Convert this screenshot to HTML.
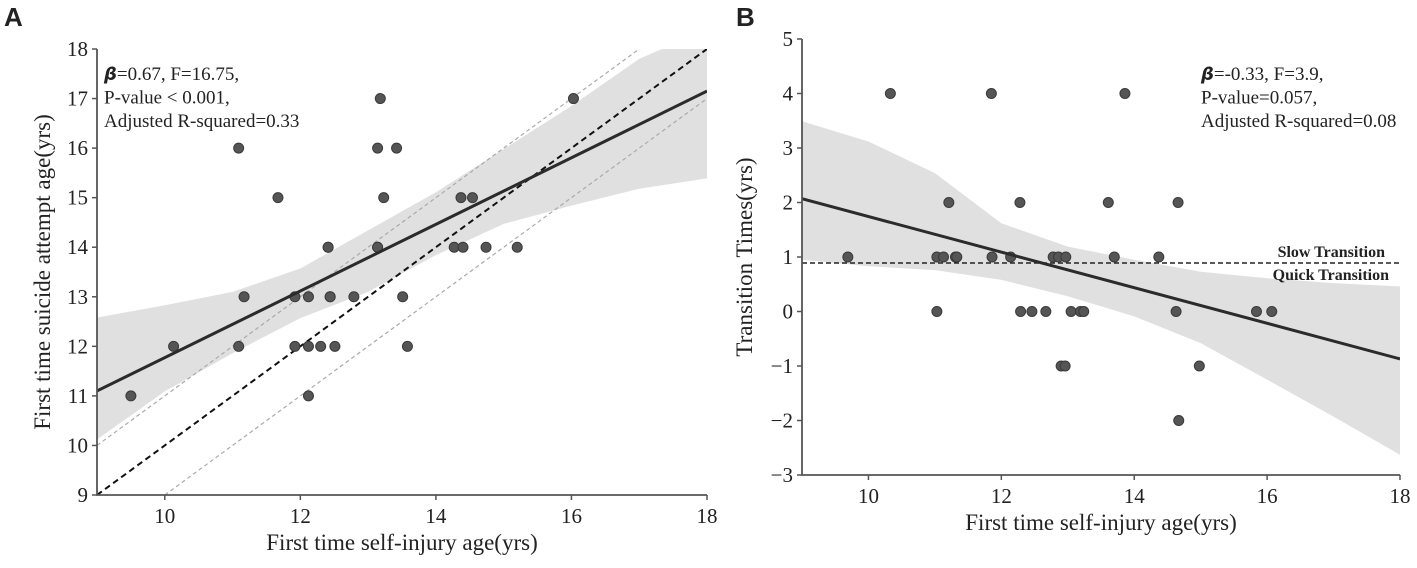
<!DOCTYPE html>
<html><head><meta charset="utf-8"><style>
body{margin:0;background:#fff}
svg text{font-family:"Liberation Serif",serif;fill:#222}
</style></head><body>
<svg id="c" width="1417" height="563" xmlns="http://www.w3.org/2000/svg">
<text x="4" y="26" style="font-family:'Liberation Sans',sans-serif;font-weight:bold;font-size:26px">A</text>
<text x="736" y="26" style="font-family:'Liberation Sans',sans-serif;font-weight:bold;font-size:26px">B</text>
<g id="pa"></g>
<g id="pb"></g>
</svg>
<script>
// Panel A data
const aX=[9.50,10.13,11.09,11.09,11.17,11.67,11.92,11.92,12.12,12.12,12.12,12.30,12.41,12.41,12.44,12.44,12.51,12.79,13.14,13.14,13.14,13.18,13.23,13.42,13.51,13.58,14.27,14.37,14.40,14.54,14.74,15.20,16.03];
const aY=[11,12,16,12,13,15,13,12,13,12,11,12,14,14,13,13,12,13,16,14,14,17,15,16,13,12,14,15,14,15,14,14,17];
const aFit=[11.1,17.15];
const aBandX=[9,10,11,12,13,14,15,16,17,18];
const aUpper=[12.58,12.83,13.1,13.57,14.34,15.11,15.98,16.85,17.8,18.4];
const aLower=[10.12,11.09,11.86,12.57,13.1,13.84,14.47,14.84,15.18,15.39];
const aXTicks=[10,12,14,16,18];
const aYTicks=[9,10,11,12,13,14,15,16,17,18];
// Panel B data
const bX=[10.33,11.85,13.86,11.21,12.28,13.61,14.66,9.69,11.03,11.13,11.31,11.33,11.86,12.14,12.78,12.86,12.97,13.70,14.37,11.03,12.29,12.46,12.67,13.05,13.19,13.24,14.63,15.84,16.07,12.90,12.96,14.98,14.67];
const bY=[4,4,4,2,2,2,2,1,1,1,1,1,1,1,1,1,1,1,1,0,0,0,0,0,0,0,0,0,0,-1,-1,-1,-2];
const bFit=[2.07,-0.87];
const bBandX=[9,10,11,12,13,14,15,16,17,18];
const bUpper=[3.49,3.12,2.54,1.62,1.19,0.95,0.73,0.61,0.52,0.46];
const bLower=[0.95,0.83,0.76,0.58,0.28,-0.09,-0.58,-1.25,-1.93,-2.63];
const bThreshold=0.89;
const bXTicks=[10,12,14,16,18];
const bYTicks=[-3,-2,-1,0,1,2,3,4,5];

const NS="http://www.w3.org/2000/svg";
function mk(p,tag,at,txt){const e=document.createElementNS(NS,tag);for(const k in at)e.setAttribute(k,at[k]);if(txt!==undefined)e.textContent=txt;p.appendChild(e);return e;}

function panel(g,o){
  const sx=v=>o.x0+(v-o.xmin)/(o.xmax-o.xmin)*(o.x1-o.x0);
  const sy=v=>o.y0-(v-o.ymin)/(o.ymax-o.ymin)*(o.y0-o.y1);
  const cid='clip'+o.id;
  const cp=mk(mk(g,'defs',{}),'clipPath',{id:cid});
  mk(cp,'rect',{x:o.x0,y:o.y1,width:o.x1-o.x0,height:o.y0-o.y1});
  const pl=mk(g,'g',{'clip-path':'url(#'+cid+')'});
  let d='';
  o.bx.forEach((x,i)=>{d+=(i?'L':'M')+sx(x)+','+sy(o.up[i]);});
  for(let i=o.bx.length-1;i>=0;i--)d+='L'+sx(o.bx[i])+','+sy(o.lo[i]);
  const band=mk(pl,'path',{d:d+'Z',fill:'#e0e0e0'});
  
  
  if(o.refs)o.refs.forEach(r=>{
    const l=mk(pl,'line',{x1:sx(o.xmin),y1:sy(o.xmin+r.off),x2:sx(o.xmax),y2:sy(o.xmax+r.off),stroke:r.c,'stroke-width':r.w,'stroke-dasharray':r.da});
    
    
  });
  if(o.thr!==undefined){
    const l=mk(pl,'line',{x1:o.x0,y1:sy(o.thr),x2:o.x1,y2:sy(o.thr),stroke:'#222','stroke-width':1.5,'stroke-dasharray':'5,3'});
    
    
  }
  o.px.forEach((x,i)=>{
    const c=mk(pl,'circle',{cx:sx(x),cy:sy(o.py[i]),r:5,fill:'#555',stroke:'#3a3a3a','stroke-width':1});
    
    
  });
  const fl=mk(pl,'line',{x1:sx(o.xmin),y1:sy(o.fit[0]),x2:sx(o.xmax),y2:sy(o.fit[1]),stroke:'#2b2b2b','stroke-width':3});
  
  
  const ax=mk(g,'path',{d:`M${o.x0},${o.y1}V${o.y0}H${o.x1}`,stroke:'#555','stroke-width':1.8,fill:'none'});
  
  
  o.xt.forEach(t=>{
    mk(g,'line',{x1:sx(t),y1:o.y0,x2:sx(t),y2:o.y0+5,stroke:'#555','stroke-width':1.5});
    const tx=mk(g,'text',{x:sx(t),y:o.y0+28,'text-anchor':'middle','font-size':21},t);
    
    
  });
  o.yt.forEach(t=>{
    mk(g,'line',{x1:o.x0,y1:sy(t),x2:o.x0-5,y2:sy(t),stroke:'#555','stroke-width':1.5});
    const tx=mk(g,'text',{x:o.x0-9,y:sy(t)+7,'text-anchor':'end','font-size':21},t<0?'\u2212'+(-t):t);
    
    
  });
  const xtl=mk(g,'text',{x:(o.x0+o.x1)/2,y:o.y0+55,'text-anchor':'middle','font-size':23},o.xlabel);
  
  
  const yc=(o.y0+o.y1)/2;
  const ytl=mk(g,'text',{x:o.ytx,y:yc,'text-anchor':'middle','font-size':23,transform:`rotate(-90 ${o.ytx} ${yc})`},o.ylabel);
  
  
  const an=mk(g,'text',{'font-size':19});
  
  
  o.ann.forEach((s,i)=>{
    const ts=mk(an,'tspan',{x:o.annx,y:o.anny+i*23.5});
    if(i===0){mk(ts,'tspan',{'font-style':'italic','font-weight':'bold','font-family':'DejaVu Sans, sans-serif','font-size':18},'β');mk(ts,'tspan',{},s);}
    else ts.textContent=s;
  });
  return {sx,sy};
}

panel(document.getElementById('pa'),{id:'a',x0:97,x1:707,y0:495,y1:49,xmin:9,xmax:18,ymin:9,ymax:18,
  px:aX,py:aY,fit:aFit,bx:aBandX,up:aUpper,lo:aLower,xt:aXTicks,yt:aYTicks,
  refs:[{off:1,c:'#aaa',w:1.2,da:'4,3',name:'upper-reference-line'},{off:-1,c:'#aaa',w:1.2,da:'4,3',name:'lower-reference-line'},{off:0,c:'#111',w:2,da:'6,4',name:'identity-line'}],
  xlabel:'First time self-injury age(yrs)',ylabel:'First time suicide attempt age(yrs)',ytx:50,
  ann:['=0.67, F=16.75,','P-value < 0.001,','Adjusted R-squared=0.33'],annx:104,anny:80});
const b=panel(document.getElementById('pb'),{id:'b',x0:802,x1:1400,y0:475,y1:39,xmin:9,xmax:18,ymin:-3,ymax:5,
  px:bX,py:bY,fit:bFit,bx:bBandX,up:bUpper,lo:bLower,xt:bXTicks,yt:bYTicks,thr:bThreshold,
  xlabel:'First time self-injury age(yrs)',ylabel:'Transition Times(yrs)',ytx:752,
  ann:['=-0.33, F=3.9,','P-value=0.057,','Adjusted R-squared=0.08'],annx:1201,anny:80});
const pb=document.getElementById('pb');
const s1=mk(pb,'text',{x:1385,y:b.sy(bThreshold)-6,'text-anchor':'end','font-size':16,'font-weight':'bold'},'Slow Transition');


const s2=mk(pb,'text',{x:1389,y:b.sy(bThreshold)+17,'text-anchor':'end','font-size':16,'font-weight':'bold'},'Quick Transition');


</script>
</body></html>
